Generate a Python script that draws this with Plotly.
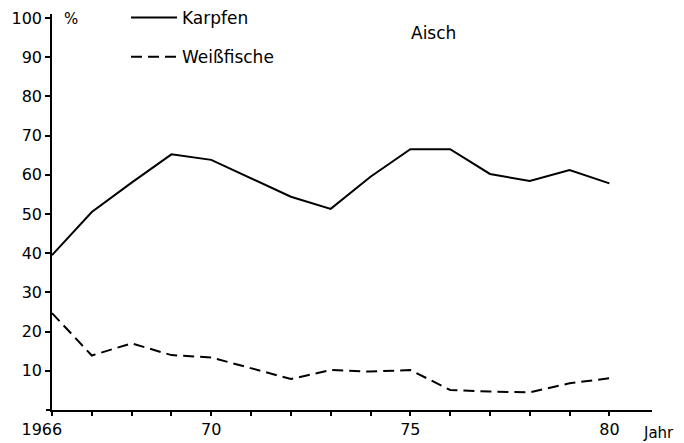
import plotly.graph_objects as go

years = list(range(1966, 1981))
karpfen = [39.5, 50.5, 58.0, 65.2, 63.8, 59.2, 54.4, 51.3, 59.5, 66.5, 66.5, 60.2, 58.4, 61.2, 57.8]
weissfische = [24.7, 13.9, 17.0, 14.0, 13.4, 10.7, 7.9, 10.2, 9.8, 10.2, 5.1, 4.7, 4.5, 6.8, 8.1]

x_tickvals = years
x_ticktext = ["1966\u00a0\u00a0\u00a0\u00a0", "", "", "", "70", "", "", "", "", "75", "", "", "", "", "80"]
y_tickvals = [10, 20, 30, 40, 50, 60, 70, 80, 90, 100]
y_ticktext = [str(v) for v in y_tickvals]

FONT = "DejaVu Sans"
fig = go.Figure()
fig.add_trace(go.Scatter(x=years, y=karpfen, mode="lines", name="Karpfen",
                         line=dict(color="black", width=2), legendgroup="a"))
fig.add_trace(go.Scatter(x=years, y=weissfische, mode="lines", name="Weißfische",
                         line=dict(color="black", width=2, dash="11px,6px"), legendgroup="b"))

fig.update_layout(
    width=684, height=443,
    margin=dict(l=52, r=32, t=14, b=33, autoexpand=False),
    paper_bgcolor="white", plot_bgcolor="white",
    font=dict(family=FONT, size=16, color="black"),
    showlegend=True,
    legend=dict(x=(126 - 52) / 600, y=1.0 + 14 / 396, xanchor="left", yanchor="top", xref="paper",
                bgcolor="rgba(0,0,0,0)", tracegroupgap=14, traceorder="grouped",
                itemwidth=46,
                font=dict(family=FONT, size=17, color="black")),
    xaxis=dict(range=[1966, 1981.07], showgrid=False, zeroline=False, automargin=False,
               showline=True, linecolor="black", linewidth=2,
               ticks="outside", ticklen=4, tickwidth=1.5, tickcolor="black",
               tickvals=x_tickvals, ticktext=x_ticktext,
               tickfont=dict(family=FONT, size=16, color="black")),
    yaxis=dict(range=[0, 101], showgrid=False, zeroline=False, automargin=False,
               showline=True, linecolor="black", linewidth=1.5,
               ticks="outside", ticklen=5, tickwidth=1.5, tickcolor="black",
               tickvals=y_tickvals, ticktext=y_ticktext,
               tickfont=dict(family=FONT, size=16, color="black")),
)

fig.add_shape(type="line", xref="paper", yref="paper", x0=-0.01, x1=0, y0=0, y1=0,
              line=dict(color="black", width=2))

fig.add_annotation(text="%", xref="paper", yref="paper", x=(62 - 52) / 600, y=(410 - 19) / 396,
                   xanchor="left", yanchor="middle", showarrow=False,
                   font=dict(family=FONT, size=15, color="black"))
fig.add_annotation(text="Aisch", xref="paper", yref="paper", x=(409 - 52) / 600, y=(410 - 33) / 396,
                   xanchor="left", yanchor="middle", showarrow=False,
                   font=dict(family=FONT, size=17, color="black"))
fig.add_annotation(text="Jahr", xref="paper", yref="paper", x=(641 - 52) / 600, y=-23 / 396,
                   xanchor="left", yanchor="middle", showarrow=False,
                   font=dict(family=FONT, size=15, color="black"))

fig.write_html("out.html", config={"displayModeBar": False},
               post_script="document.body.style.margin='0';document.body.style.overflow='hidden';")
